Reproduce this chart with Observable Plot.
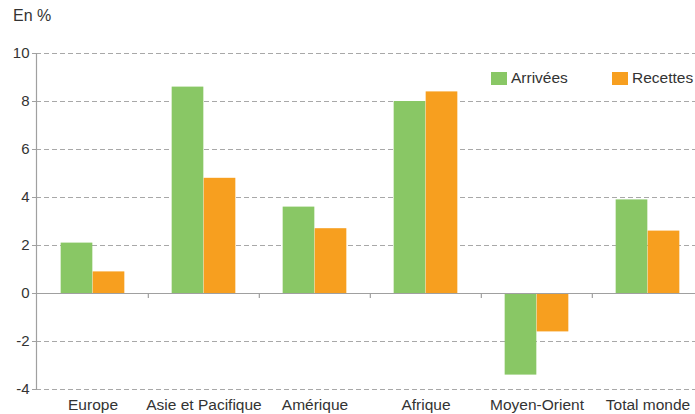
<!DOCTYPE html>
<html>
<head>
<meta charset="utf-8">
<script src="https://cdn.jsdelivr.net/npm/d3@7"></script>
<script src="https://cdn.jsdelivr.net/npm/@observablehq/plot@0.6"></script>
<style>
  html, body { margin: 0; padding: 0; background: #fff; }
  #wrap { position: relative; width: 695px; height: 414px; overflow: hidden;
          font-family: "Liberation Sans", Arial, sans-serif; color: #333; }
  #unit { position: absolute; left: 13px; top: 7px; font-size: 16px; }
  .leg { position: absolute; top: 69px; font-size: 15.5px; display: flex; align-items: center; white-space: nowrap; }
  .sw { display: inline-block; width: 16px; height: 13px; margin-right: 4px; }
</style>
</head>
<body>
<div id="wrap">
  <div id="unit">En %</div>
</div>
<script>
const categories = ["Europe", "Asie et Pacifique", "Amérique", "Afrique", "Moyen-Orient", "Total monde"];
const seriesNames = ["Arrivées", "Recettes"];
const arrivees = [2.1, 8.6, 3.6, 8.0, -3.4, 3.9];
const recettes = [0.9, 4.8, 2.7, 8.4, -1.6, 2.6];
const yTicks = [-4, -2, 0, 2, 4, 6, 8, 10];
const colors = ["#89c765", "#f79f1f"];

const data = [];
categories.forEach((c, i) => {
  data.push({region: c, series: seriesNames[0], value: arrivees[i]});
  data.push({region: c, series: seriesNames[1], value: recettes[i]});
});

const W = 695, H = 414, mL = 36, mR = -9, mT = 53, mB = 25;
const step = (W - mR - mL) / categories.length;
const half = step / 2, barW = 32;
const font = '"Liberation Sans", Arial, sans-serif';

const chart = Plot.plot({
  width: W, height: H,
  marginLeft: mL, marginRight: mR, marginTop: mT, marginBottom: mB,
  style: {fontFamily: font, fontSize: "15px", color: "#333", background: "transparent"},
  x: {domain: categories, padding: 0},
  y: {domain: [-4, 10]},
  color: {domain: seriesNames, range: colors},
  marks: [
    Plot.gridY(yTicks.filter(d => d !== 0), {stroke: "#a8a8a8", strokeOpacity: 1, strokeDasharray: "5,3"}),
    Plot.barY(data.filter(d => d.series === seriesNames[0]), {x: "region", y: "value", fill: "series", insetLeft: half - barW, insetRight: half}),
    Plot.barY(data.filter(d => d.series === seriesNames[1]), {x: "region", y: "value", fill: "series", insetLeft: half, insetRight: half - barW}),
    Plot.ruleY([0], {stroke: "#a0a0a0", strokeWidth: 1.2}),
    Plot.ruleX(categories.slice(1), {x: d => d, y1: 0, y2: -0.21, dx: -half, stroke: "#a0a0a0", strokeWidth: 1.2}),
    Plot.frame({anchor: "left", stroke: "#a0a0a0", strokeWidth: 1.2}),
    Plot.axisY({ticks: yTicks, tickFormat: d => String(d), tickSize: 4, tickPadding: 3, stroke: "#a0a0a0", fill: "#333", label: null, fontSize: 15}),
    Plot.axisX({tickSize: 0, tickPadding: 9, label: null, fill: "#333", fontSize: 15.5})
  ]
});
const wrap = document.getElementById("wrap");
wrap.appendChild(chart);
chart.style.position = "absolute";
chart.style.left = "0";
chart.style.top = "0";

const legX = [491, 612];
seriesNames.forEach((s, i) => {
  const d = document.createElement("div");
  d.className = "leg";
  d.style.left = legX[i] + "px";
  d.innerHTML = `<span class="sw" style="background:${colors[i]}"></span><span>${s}</span>`;
  wrap.appendChild(d);
});
</script>
</body>
</html>
